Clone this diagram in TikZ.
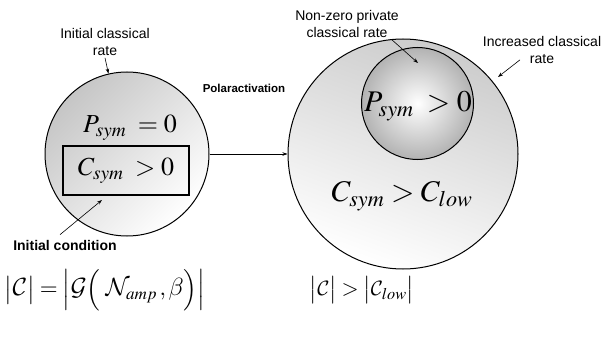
\documentclass[tikz,border=0pt]{standalone}
\usepackage{mathptmx}
\DeclareMathAlphabet{\mathcal}{OMS}{cmsy}{m}{n}
\DeclareSymbolFont{cmletters}{OML}{cmm}{m}{it}
\DeclareMathSymbol{\itbeta}{\mathord}{cmletters}{"0C}
\usepackage[no-math]{fontspec}
\newfontfamily\lblfont{Liberation Sans}
\usepackage{tikz}
\usetikzlibrary{positioning, arrows.meta}

\begin{document}
\begin{tikzpicture}[x=1pt, y=-1pt,
  lbl/.style={font=\lblfont\fontsize{14}{17}\selectfont, align=center, inner sep=2pt},
  lblbold/.style={font=\lblfont\bfseries\fontsize{14}{17}\selectfont, inner sep=2pt},
  lblarrow/.style={-{Stealth[length=5pt,width=3.5pt]}, line width=0.6pt},
  eq/.style={font=\fontsize{26}{30}\selectfont, inner sep=0pt},
  set/.style={circle, draw, line width=1pt, inner sep=0pt}]
\fill[white] (0,0) rectangle (605,345);
\useasboundingbox (0,0) rectangle (605,345);
% initial set
\node[set, minimum size=164pt, top color=gray!45, bottom color=white, shading angle=45] (init) at (127,154) {};
\node[eq] (pzero) at (130,128) {$P_{sym}\;=0$};
\node[draw, line width=1.4pt, minimum width=126pt, minimum height=49pt, eq] (csym) at (126,170.5) {$C_{sym}\;>0$};
% set after polaractivation
\node[set, minimum size=230pt, left color=gray!40, right color=white, shading angle=-20] (outer) at (403,154) {};
\node[set, minimum size=112pt, inner color=white, outer color=gray!60] (inner) at (417.5,103.5) {};
\node[eq, font=\fontsize{30}{34}\selectfont] (ppos) at (418,106) {$P_{sym}\;>0$};
\node[eq, font=\fontsize{30}{34}\selectfont] (clow) at (402,196) {$C_{sym}>C_{low}$};
\draw[lblarrow] (init) -- (outer);
\node[lblbold, font=\lblfont\bfseries\fontsize{11.5}{14}\selectfont] (lblpolar) at (244,88) {Polaractivation};
% labels
\node[lbl] (lblinit) at (105,42) {Initial classical\\rate};
\draw[lblarrow] (lblinit.south) -- (init.103);
\node[lblbold] (lblcond) at (65,245) {Initial condition};
\coordinate (condtip) at (102,200);
\draw[lblarrow] ([xshift=-5pt,yshift=3pt]lblcond.north) -- (condtip);
\node[lbl] (lblpriv) at (347,24) {Non-zero private\\classical rate};
\coordinate (privtip) at (418,63);
\draw[lblarrow] ([xshift=-9pt]lblpriv.south east) -- (privtip);
\node[lbl] (lblinc) at (542,50) {Increased classical\\rate};
\coordinate (inctip) at (498,77);
\draw[lblarrow] ([xshift=-22pt,yshift=6pt]lblinc.south) -- (inctip);
% rate conditions
\node[eq, font=\fontsize{23}{27}\selectfont] (rateinit) at (105,290) {$\bigl|\mathcal{C}\bigr| = \Bigl|\mathcal{G}\Bigl(\;\mathcal{N}_{amp}\,,\itbeta\Bigr)\Bigr|$};
\node[eq, font=\fontsize{22}{26}\selectfont] (ratelow) at (362,290) {$\bigl|\mathcal{C}\bigr| > \bigl|\mathcal{C}_{low}\bigr|$};
\end{tikzpicture}
\end{document}
